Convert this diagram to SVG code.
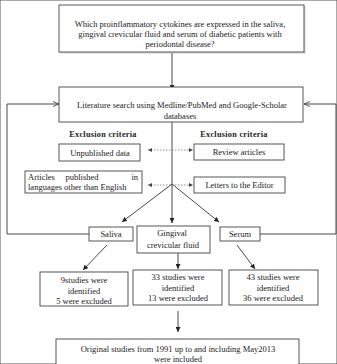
<svg xmlns="http://www.w3.org/2000/svg" width="337" height="364" viewBox="0 0 337 364">
<defs>
<marker id="arr" viewBox="0 0 6 6" refX="6" refY="3" markerWidth="5" markerHeight="5" orient="auto" markerUnits="userSpaceOnUse">
<path d="M0,0 L6,3 L0,6 Z" fill="#222"/>
</marker>
<marker id="chev" viewBox="0 0 6 6" refX="6" refY="3" markerWidth="6" markerHeight="6" orient="auto" markerUnits="userSpaceOnUse">
<path d="M0,0.5 L6,3 L0,5.5" fill="none" stroke="#333" stroke-width="0.8"/>
</marker>
<marker id="darr" viewBox="0 0 6 6" refX="6" refY="3" markerWidth="4" markerHeight="4" orient="auto-start-reverse" markerUnits="userSpaceOnUse">
<path d="M0,0 L6,3 L0,6 Z" fill="#444"/>
</marker>
</defs>
<style>
rect{fill:#fff;stroke:#444;stroke-width:0.9}
text{font-family:"Liberation Serif","Times New Roman",serif;font-size:8.5px;fill:#222;text-anchor:middle}
.b{font-weight:bold;font-size:8.2px;letter-spacing:0.3px}
.ln{fill:none;stroke:#333;stroke-width:0.9}
.dot{fill:none;stroke:#777;stroke-width:0.8;stroke-dasharray:1.5,1.5}
.sh{fill:none;stroke:#999;stroke-width:1.2}
</style>
<rect x="0" y="0" width="337" height="364" fill="#fff" stroke="none"/>
<g id="connectors">
<path class="ln" d="M172,53 V90" marker-end="url(#arr)"/>
<path class="ln" d="M172,122 V184"/>
<path class="ln" d="M172,184 L122,222" marker-end="url(#arr)"/>
<path class="ln" d="M172,184 V223" marker-end="url(#arr)"/>
<path class="ln" d="M172,184 L219,222" marker-end="url(#arr)"/>
<path class="dot" d="M148,150 H193" marker-start="url(#darr)" marker-end="url(#darr)"/>
<path class="dot" d="M148,185 H193" marker-start="url(#darr)" marker-end="url(#darr)"/>
<path class="ln" d="M89,234 H7 V104 H59" marker-end="url(#chev)"/>
<path class="ln" d="M260,234 H336 V104 H304" marker-end="url(#chev)"/>
<path class="ln" d="M107,245 L83,270" marker-end="url(#arr)"/>
<path class="ln" d="M178,253 V269" marker-end="url(#arr)"/>
<path class="ln" d="M237,245 L255,269" marker-end="url(#arr)"/>
<path class="ln" d="M178,311 V332" marker-end="url(#arr)"/>
</g>
<g id="question">
<rect x="59" y="5" width="245" height="47"/>
<path class="sh" d="M60,52.6 H304.6 V6"/>
<text x="180" y="27">Which proinflammatory  cytokines are expressed in the saliva,</text>
<text x="180" y="37">gingival crevicular fluid and serum  of diabetic patients with</text>
<text x="180" y="47">periodontal disease?</text>
</g>
<g id="search">
<rect x="59" y="87" width="244" height="35"/>
<text x="182" y="108">Literature search using Medline/PubMed and Google-Scholar</text>
<text x="180" y="119">databases</text>
</g>
<g id="excl-left-label"><text class="b" x="103" y="137">Exclusion criteria</text></g>
<g id="excl-right-label"><text class="b" x="234" y="137">Exclusion criteria</text></g>
<g id="unpublished">
<rect x="59" y="144" width="81" height="17"/>
<text x="100" y="155.5">Unpublished data</text>
</g>
<g id="review">
<rect x="194" y="144" width="90" height="16"/>
<text x="239" y="155">Review articles</text>
</g>
<g id="languages">
<rect x="25" y="171" width="117" height="22"/>
<text x="28" y="180" style="text-anchor:start">Articles</text>
<text x="82" y="180">published</text>
<text x="138" y="180" style="text-anchor:end">in</text>
<text x="28" y="190" style="text-anchor:start">languages other than English</text>
</g>
<g id="letters">
<rect x="194" y="177" width="91" height="16"/>
<text x="239.5" y="188">Letters to the Editor</text>
</g>
<g id="saliva">
<rect x="89" y="227" width="44" height="14"/>
<text x="111" y="237">Saliva</text>
</g>
<g id="gcf">
<rect x="137" y="226" width="73" height="27"/>
<text x="172" y="236">Gingival</text>
<text x="173" y="248">crevicular fluid</text>
</g>
<g id="serum">
<rect x="220" y="227" width="40" height="14"/>
<text x="240" y="237">Serum</text>
</g>
<g id="saliva-result">
<rect x="40" y="272" width="88" height="34"/>
<text x="84" y="283">9studies were</text>
<text x="84" y="293.5">identified</text>
<text x="84" y="304">5 were excluded</text>
</g>
<g id="gcf-result">
<rect x="133" y="270" width="89" height="35"/>
<text x="178" y="280">33 studies were</text>
<text x="178" y="290.5">identified</text>
<text x="178" y="301">13 were excluded</text>
</g>
<g id="serum-result">
<rect x="229" y="270" width="89" height="35"/>
<text x="273" y="280">43  studies were</text>
<text x="273" y="290.5">identified</text>
<text x="273" y="301">36 were excluded</text>
</g>
<g id="included">
<rect x="56" y="339" width="243" height="30"/>
<text x="178" y="352">Original studies from 1991 up to and including May2013</text>
<text x="178" y="361.5">were included</text>
</g>
</svg>
